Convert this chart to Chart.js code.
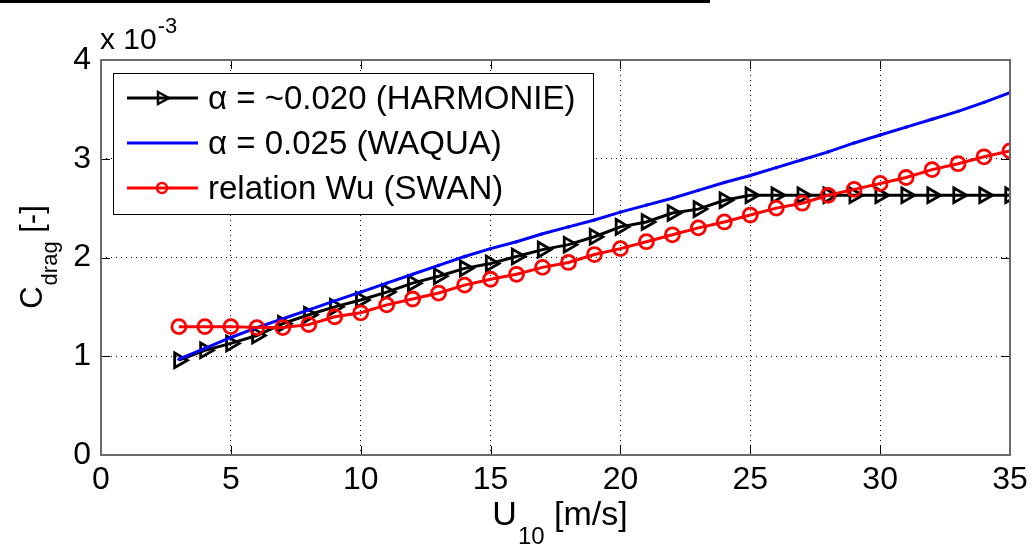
<!DOCTYPE html>
<html>
<head>
<meta charset="utf-8">
<script src="https://cdn.jsdelivr.net/npm/chart.js@4"></script>
<style>
  body { margin: 0; background: #fff; }
  #wrap { width: 1035px; height: 548px; }
</style>
</head>
<body>
<div id="wrap"><canvas id="cdrag" width="1035" height="548"></canvas></div>
<script>
// wind speed U10 [m/s]
const windSpeed = [3, 4, 5, 6, 7, 8, 9, 10, 11, 12, 13, 14, 15, 16, 17, 18, 19,
                   20, 21, 22, 23, 24, 25, 26, 27, 28, 29, 30, 31, 32, 33, 34, 35];
// drag coefficient, in units of 1e-3
const harmonie = [0.96, 1.06, 1.13, 1.21, 1.33, 1.42, 1.50, 1.57, 1.65, 1.74, 1.81, 1.89, 1.94, 2.01, 2.08, 2.13, 2.21,
                  2.31, 2.36, 2.45, 2.49, 2.58, 2.63, 2.63, 2.63, 2.63, 2.63, 2.63, 2.63, 2.63, 2.63, 2.63, 2.63];
const waqua = [0.97, 1.08, 1.19, 1.29, 1.38, 1.47, 1.56, 1.65, 1.74, 1.83, 1.92, 2.01, 2.09, 2.16, 2.24, 2.31, 2.38,
               2.46, 2.53, 2.60, 2.68, 2.76, 2.83, 2.91, 2.99, 3.07, 3.16, 3.24, 3.32, 3.40, 3.48, 3.57, 3.67];
const wuSwan = [1.30, 1.30, 1.30, 1.29, 1.29, 1.32, 1.40, 1.44, 1.52, 1.58, 1.64, 1.72, 1.78, 1.83, 1.90, 1.95, 2.03,
                2.09, 2.16, 2.23, 2.30, 2.36, 2.43, 2.50, 2.55, 2.63, 2.69, 2.75, 2.81, 2.89, 2.95, 3.02, 3.08];

const xTicks = [0, 5, 10, 15, 20, 25, 30, 35];
const yTicks = [0, 1, 2, 3, 4];

const FONT = '"Liberation Sans", Arial, Helvetica, sans-serif';

const pts = ys => windSpeed.map((x, i) => ({x: x, y: ys[i]}));

const series = [
    {label: 'α = ~0.020 (HARMONIE)', color: '#000000', marker: 'triangle'},
    {label: 'α = 0.025 (WAQUA)', color: '#0000ff', marker: 'dot'},
    {label: 'relation Wu (SWAN)', color: '#ff0000', marker: 'circle'}
];

// matlab style box, inward ticks, legend and labels
const matlabDecor = {
    id: 'matlabDecor',
    afterDraw(chart) {
        const ctx = chart.ctx;
        const a = chart.chartArea;
        const xs = chart.scales.x, ys = chart.scales.y;
        ctx.save();

        // cropped figure edge at the top
        ctx.fillStyle = '#000';
        ctx.fillRect(0, 0, 710, 3);

        // ticks
        ctx.strokeStyle = '#000';
        ctx.lineWidth = 1;
        const tl = 9;
        xTicks.forEach(v => {
            const px = Math.round(xs.getPixelForValue(v)) + 0.5;
            ctx.beginPath();
            ctx.moveTo(px, a.bottom); ctx.lineTo(px, a.bottom - tl);
            ctx.moveTo(px, a.top); ctx.lineTo(px, a.top + tl);
            ctx.stroke();
        });
        yTicks.forEach(v => {
            const py = Math.round(ys.getPixelForValue(v)) + 0.5;
            ctx.beginPath();
            ctx.moveTo(a.left, py); ctx.lineTo(a.left + tl, py);
            ctx.moveTo(a.right, py); ctx.lineTo(a.right - tl, py);
            ctx.stroke();
        });

        // box
        ctx.strokeStyle = '#6a6a6a';
        ctx.lineWidth = 2;
        ctx.strokeRect(a.left, a.top, a.right - a.left, a.bottom - a.top);

        // legend
        const lx = 113, ly = 73, lw = 480, lh = 141;
        ctx.fillStyle = '#fff';
        ctx.fillRect(lx, ly, lw, lh);
        ctx.strokeStyle = '#000';
        ctx.lineWidth = 1;
        ctx.strokeRect(lx + 0.5, ly + 0.5, lw, lh);
        const rows = [98, 143, 188];
        series.forEach((s, i) => {
            const y = rows[i];
            ctx.strokeStyle = s.color;
            ctx.lineWidth = 3;
            ctx.beginPath();
            ctx.moveTo(127, y); ctx.lineTo(198, y);
            ctx.stroke();
            const cx = 162;
            ctx.lineWidth = 2.5;
            if (s.marker === 'triangle') {
                ctx.beginPath();
                ctx.moveTo(cx + 7, y);
                ctx.lineTo(cx - 4, y - 6);
                ctx.lineTo(cx - 4, y + 6);
                ctx.closePath();
                ctx.stroke();
            } else if (s.marker === 'circle') {
                ctx.beginPath();
                ctx.arc(cx, y, 5, 0, Math.PI * 2);
                ctx.stroke();
            }
            ctx.fillStyle = '#000';
            ctx.font = '33px ' + FONT;
            ctx.textAlign = 'left';
            ctx.textBaseline = 'middle';
            ctx.fillText(s.label, 208, y + 2);
        });

        // exponent label
        ctx.fillStyle = '#000';
        ctx.textBaseline = 'alphabetic';
        ctx.font = '30px ' + FONT;
        ctx.fillText('x 10', 100, 49);
        const w10 = ctx.measureText('x 10').width;
        ctx.font = '22px ' + FONT;
        ctx.fillText('-3', 100 + w10 + 1, 33);

        // x title
        const xt1 = 'U', xt2 = '10', xt3 = ' [m/s]';
        ctx.font = '34px ' + FONT;
        const w1 = ctx.measureText(xt1).width;
        const w3 = ctx.measureText(xt3).width;
        ctx.font = '24px ' + FONT;
        const w2 = ctx.measureText(xt2).width;
        let sx = (a.left + a.right) / 2 - (w1 + w2 + w3) / 2 + 4;
        ctx.font = '34px ' + FONT;
        ctx.fillText(xt1, sx, 525);
        ctx.font = '24px ' + FONT;
        ctx.fillText(xt2, sx + w1 + 1, 544);
        ctx.font = '34px ' + FONT;
        ctx.fillText(xt3, sx + w1 + w2 + 1, 525);

        // y title
        ctx.translate(42, (a.top + a.bottom) / 2);
        ctx.rotate(-Math.PI / 2);
        const y1 = 'C', y2 = 'drag', y3 = ' [-]';
        ctx.font = '31px ' + FONT;
        const v1 = ctx.measureText(y1).width;
        const v3 = ctx.measureText(y3).width;
        ctx.font = '22px ' + FONT;
        const v2 = ctx.measureText(y2).width;
        let sy = -(v1 + v2 + v3) / 2;
        ctx.font = '31px ' + FONT;
        ctx.fillText(y1, sy, 0);
        ctx.font = '22px ' + FONT;
        ctx.fillText(y2, sy + v1 + 1, 15);
        ctx.font = '31px ' + FONT;
        ctx.fillText(y3, sy + v1 + v2 + 1, 0);

        ctx.restore();
    }
};

new Chart(document.getElementById('cdrag'), {
    type: 'line',
    data: {
        datasets: [
            {
                label: series[0].label,
                data: pts(harmonie),
                borderColor: '#000',
                borderWidth: 3,
                pointStyle: 'triangle',
                pointRotation: 90,
                pointRadius: 8.5,
                pointBorderWidth: 2.8,
                pointBorderColor: '#000',
                pointBackgroundColor: 'rgba(0,0,0,0)',
                tension: 0,
                order: 3
            },
            {
                label: series[1].label,
                data: pts(waqua),
                borderColor: '#0000ff',
                borderWidth: 3,
                pointStyle: 'circle',
                pointRadius: 1.3,
                pointBorderWidth: 1,
                pointBorderColor: '#0000ff',
                pointBackgroundColor: '#0000ff',
                tension: 0,
                order: 2
            },
            {
                label: series[2].label,
                data: pts(wuSwan),
                borderColor: '#ff0000',
                borderWidth: 3,
                pointStyle: 'circle',
                pointRadius: 7,
                pointBorderWidth: 2.8,
                pointBorderColor: '#ff0000',
                pointBackgroundColor: 'rgba(0,0,0,0)',
                tension: 0,
                order: 1
            }
        ]
    },
    options: {
        responsive: false,
        animation: false,
        layout: {padding: {left: 0, top: 60, right: 25, bottom: 0}},
        plugins: {
            legend: {display: false},
            tooltip: {enabled: false}
        },
        scales: {
            x: {
                type: 'linear',
                min: 0,
                max: 35,
                afterFit: s => { s.height = 93; },
                afterBuildTicks: s => { s.ticks = xTicks.map(v => ({value: v})); },
                ticks: {
                    color: '#000',
                    font: {family: FONT, size: 32},
                    padding: 6,
                    maxRotation: 0,
                    autoSkip: false
                },
                grid: {color: '#000', lineWidth: 1, drawTicks: false},
                border: {display: false, dash: [1, 4]}
            },
            y: {
                min: 0,
                max: 4,
                afterFit: s => { s.width = 101; },
                afterBuildTicks: s => { s.ticks = yTicks.map(v => ({value: v})); },
                ticks: {
                    color: '#000',
                    font: {family: FONT, size: 32},
                    padding: 10
                },
                grid: {color: '#000', lineWidth: 1, drawTicks: false},
                border: {display: false, dash: [1, 4]}
            }
        }
    },
    plugins: [matlabDecor]
});
</script>
</body>
</html>
